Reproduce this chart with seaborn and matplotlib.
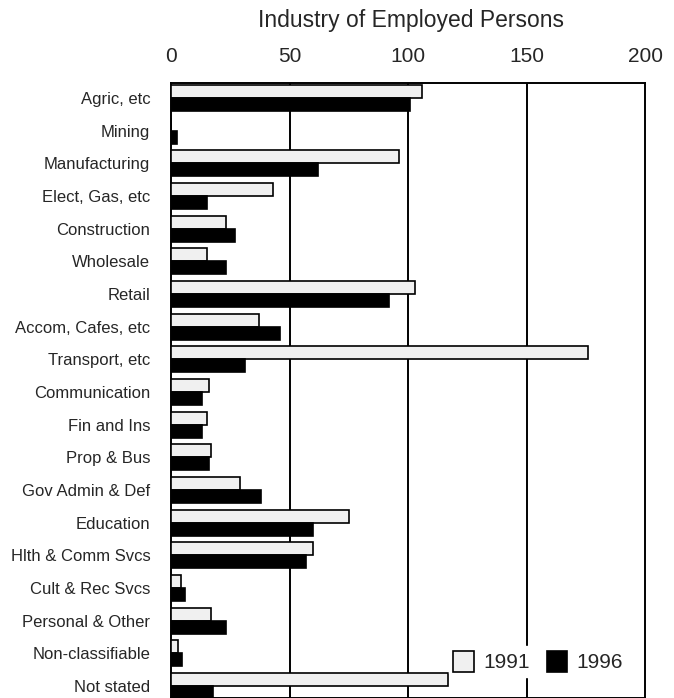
import pandas as pd
import numpy as np
import matplotlib
matplotlib.use('Agg')
import matplotlib.pyplot as plt
import seaborn as sns

# data
industries = ['Agric, etc', 'Mining', 'Manufacturing', 'Elect, Gas, etc', 'Construction',
              'Wholesale', 'Retail', 'Accom, Cafes, etc', 'Transport, etc', 'Communication',
              'Fin and Ins', 'Prop & Bus', 'Gov Admin & Def', 'Education', 'Hlth & Comm Svcs',
              'Cult & Rec Svcs', 'Personal & Other', 'Non-classifiable', 'Not stated']
v1991 = [106, 0, 96, 43, 23, 15, 103, 37, 176, 16, 15, 17, 29, 75, 60, 4, 17, 3, 117]
v1996 = [101, 2.5, 62, 15, 27, 23, 92, 46, 31, 13, 13, 16, 38, 60, 57, 6, 23, 4.5, 17.5]
years = ['1991', '1996']

df = pd.DataFrame({'Industry': industries * 2,
                   'Year': [years[0]] * len(industries) + [years[1]] * len(industries),
                   'Persons': v1991 + v1996})

sns.set_style('white')
plt.rcParams['font.family'] = ['Liberation Sans', 'DejaVu Sans']

fig = plt.figure(figsize=(6.74, 6.98), dpi=100)
ax = fig.add_axes([0.254, 0.0, 0.703, 0.881])

sns.barplot(data=df, y='Industry', x='Persons', hue='Year', orient='h',
            palette={'1991': '#f0f0f0', '1996': 'black'}, width=0.8,
            edgecolor='black', linewidth=1.2, saturation=1, ax=ax, zorder=3)

for v in [50, 100, 150]:
    ax.axvline(v, color='black', lw=1.4, zorder=1)

ax.set_xlim(0, 200)
ax.set_ylim(18.37, -0.46)
ax.xaxis.tick_top()
ax.set_xticks([0, 50, 100, 150, 200])
ax.tick_params(axis='x', length=0, pad=12, labelsize=15)
ax.tick_params(axis='y', length=0, pad=15, labelsize=12)
ax.set_xlabel('')
ax.set_ylabel('')
for s in ax.spines.values():
    s.set_color('black')
    s.set_linewidth(1.4)

fig.text(0.61, 0.97, 'Industry of Employed Persons', ha='center', va='center', fontsize=16.5)

leg = ax.legend(loc='lower right', bbox_to_anchor=(0.985, 0.018), ncol=2, frameon=True,
                fontsize=15, handlelength=1.0, handleheight=1.2, columnspacing=0.8,
                handletextpad=0.45, borderpad=0.2)
leg.get_frame().set_edgecolor('white')
leg.get_frame().set_facecolor('white')
leg.get_frame().set_alpha(1)
leg.set_zorder(5)

fig.savefig('out.png', dpi=100)
